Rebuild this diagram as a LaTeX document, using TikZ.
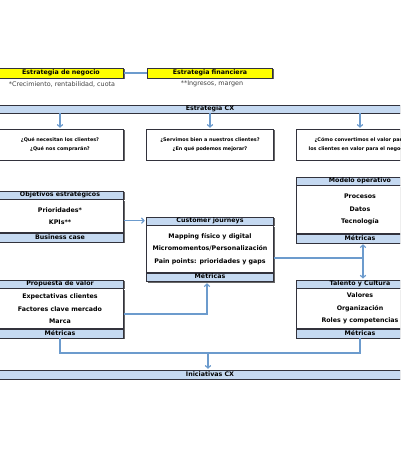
\documentclass[tikz,border=0pt]{standalone}
\usepackage{fontspec}
\setmainfont{DejaVu Sans}
\usetikzlibrary{arrows.meta,shadows}

\definecolor{cxblue}{RGB}{197,217,241}
\definecolor{linkblue}{RGB}{108,155,205}
\definecolor{frame}{RGB}{50,50,60}
\definecolor{stratyellow}{RGB}{255,255,0}

\begin{document}
\begin{tikzpicture}[x=1pt, y=-1pt,
  boxshadow/.style={drop shadow={shadow xshift=1.2pt, shadow yshift=-1.2pt, fill=black!60, opacity=1}},
  hdr/.style={draw=frame, fill=cxblue, boxshadow, inner sep=0pt, minimum width=127pt, minimum height=8.5pt,
    text height=4.5pt, text depth=1.3pt, font=\fontsize{6.3}{6.5}\selectfont\bfseries},
  body/.style={draw=frame, fill=white, boxshadow, inner sep=0pt, minimum width=127pt, align=center,
    font=\fontsize{6.3}{12.5}\selectfont\bfseries},
  strat/.style={draw=frame, fill=stratyellow, boxshadow, inner sep=0pt, minimum width=125pt, minimum height=10pt,
    text height=4.5pt, text depth=1.3pt, font=\fontsize{6.3}{6.5}\selectfont\bfseries},
  note/.style={inner sep=0pt, text=black!75, font=\fontsize{6.4}{6.5}\selectfont},
  question/.style={draw=frame, fill=white, boxshadow, inner sep=0pt, minimum width=127pt, minimum height=31pt,
    align=center, font=\fontsize{4.9}{8.5}\selectfont\bfseries},
  link/.style={draw=linkblue, line width=1.2pt, >={Straight Barb[length=2.5pt,width=5.5pt]}}
]

\useasboundingbox (0,0) rectangle (400,450);
\clip (0,0) rectangle (400,450);

% estrategias
\node[strat] (neg) at (61,73) {Estrategia de negocio};
\node[strat] (fin) at (210,73) {Estrategia financiera};
\draw[link] (neg.east) -- (fin.west);
\node[note] (neg-note) at (62,84) {*Crecimiento, rentabilidad, cuota};
\node[note] (fin-note) at (212,84) {**Ingresos, margen};

% estrategia CX y preguntas
\node[hdr, minimum width=427pt] (cx) at (210,109) {Estrategia CX};
\node[question] (q1) at (60,144.5) {¿Qué necesitan los clientes?\\¿Qué nos comprarán?};
\node[question] (q2) at (210,144.5) {¿Servimos bien a nuestros clientes?\\¿En qué podemos mejorar?};
\node[question] (q3) at (360,144.5) {¿Cómo convertimos el valor para\\los clientes en valor para el negocio?};
\foreach \q in {q1,q2,q3}
  \draw[link,->,shorten >=1pt] (cx.south -| \q.north) -- (\q.north);

% objetivos estrategicos
\node[hdr] (obj-h) at (60,195) {Objetivos estratégicos};
\node[body, minimum height=33pt, anchor=north] (obj-b) at (obj-h.south) {Prioridades*\\KPIs**};
\node[hdr, minimum height=9pt, anchor=north] (obj-f) at (obj-b.south) {Business case};

% modelo operativo
\node[hdr] (mod-h) at (360,181) {Modelo operativo};
\node[body, minimum height=48pt, anchor=north] (mod-b) at (mod-h.south) {Procesos\\Datos\\Tecnología};
\node[hdr, minimum height=9pt, anchor=north] (mod-f) at (mod-b.south) {Métricas};

% customer journeys
\node[hdr] (cj-h) at (210,221) {Customer journeys};
\node[body, minimum height=47pt, anchor=north] (cj-b) at (cj-h.south)
  {Mapping físico y digital\\Micromomentos/Personalización\\Pain points: prioridades y gaps};
\node[hdr, anchor=north] (cj-f) at (cj-b.south) {Métricas};

% propuesta de valor
\node[hdr] (pro-h) at (60,284) {Propuesta de valor};
\node[body, minimum height=40pt, anchor=north] (pro-b) at (pro-h.south)
  {Expectativas clientes\\Factores clave mercado\\Marca};
\node[hdr, minimum height=9pt, anchor=north] (pro-f) at (pro-b.south) {Métricas};

% talento y cultura
\node[hdr] (tal-h) at (360,284) {Talento y Cultura};
\node[body, minimum height=40pt, anchor=north] (tal-b) at (tal-h.south)
  {Valores\\Organización\\Roles y competencias};
\node[hdr, minimum height=9pt, anchor=north] (tal-f) at (tal-b.south) {Métricas};

% iniciativas
\node[hdr, minimum width=427pt, minimum height=9pt] (ini) at (210,374.5) {Iniciativas CX};

% conexiones
\coordinate (hub) at (363,258);
\coordinate (up) at (207,314);
\coordinate (join) at (208,353);
\draw[link,->,shorten >=1.5pt] ([yshift=-4.5pt]obj-b.east) -- ([yshift=-4.5pt]obj-b.east -| cj-h.west);
\draw[link] (cj-b.east |- hub) -- (hub);
\draw[link,<->,shorten <=1pt,shorten >=1pt] (mod-f.south -| hub) -- (tal-h.north -| hub);
\draw[link,->,shorten >=1.5pt] (pro-b.east |- up) -- (up) -- (cj-f.south -| up);
\draw[link] (pro-f.south) |- (join) -| (tal-f.south);
\draw[link,->,shorten >=1pt] (join) -- (ini.north -| join);

\end{tikzpicture}
\end{document}
